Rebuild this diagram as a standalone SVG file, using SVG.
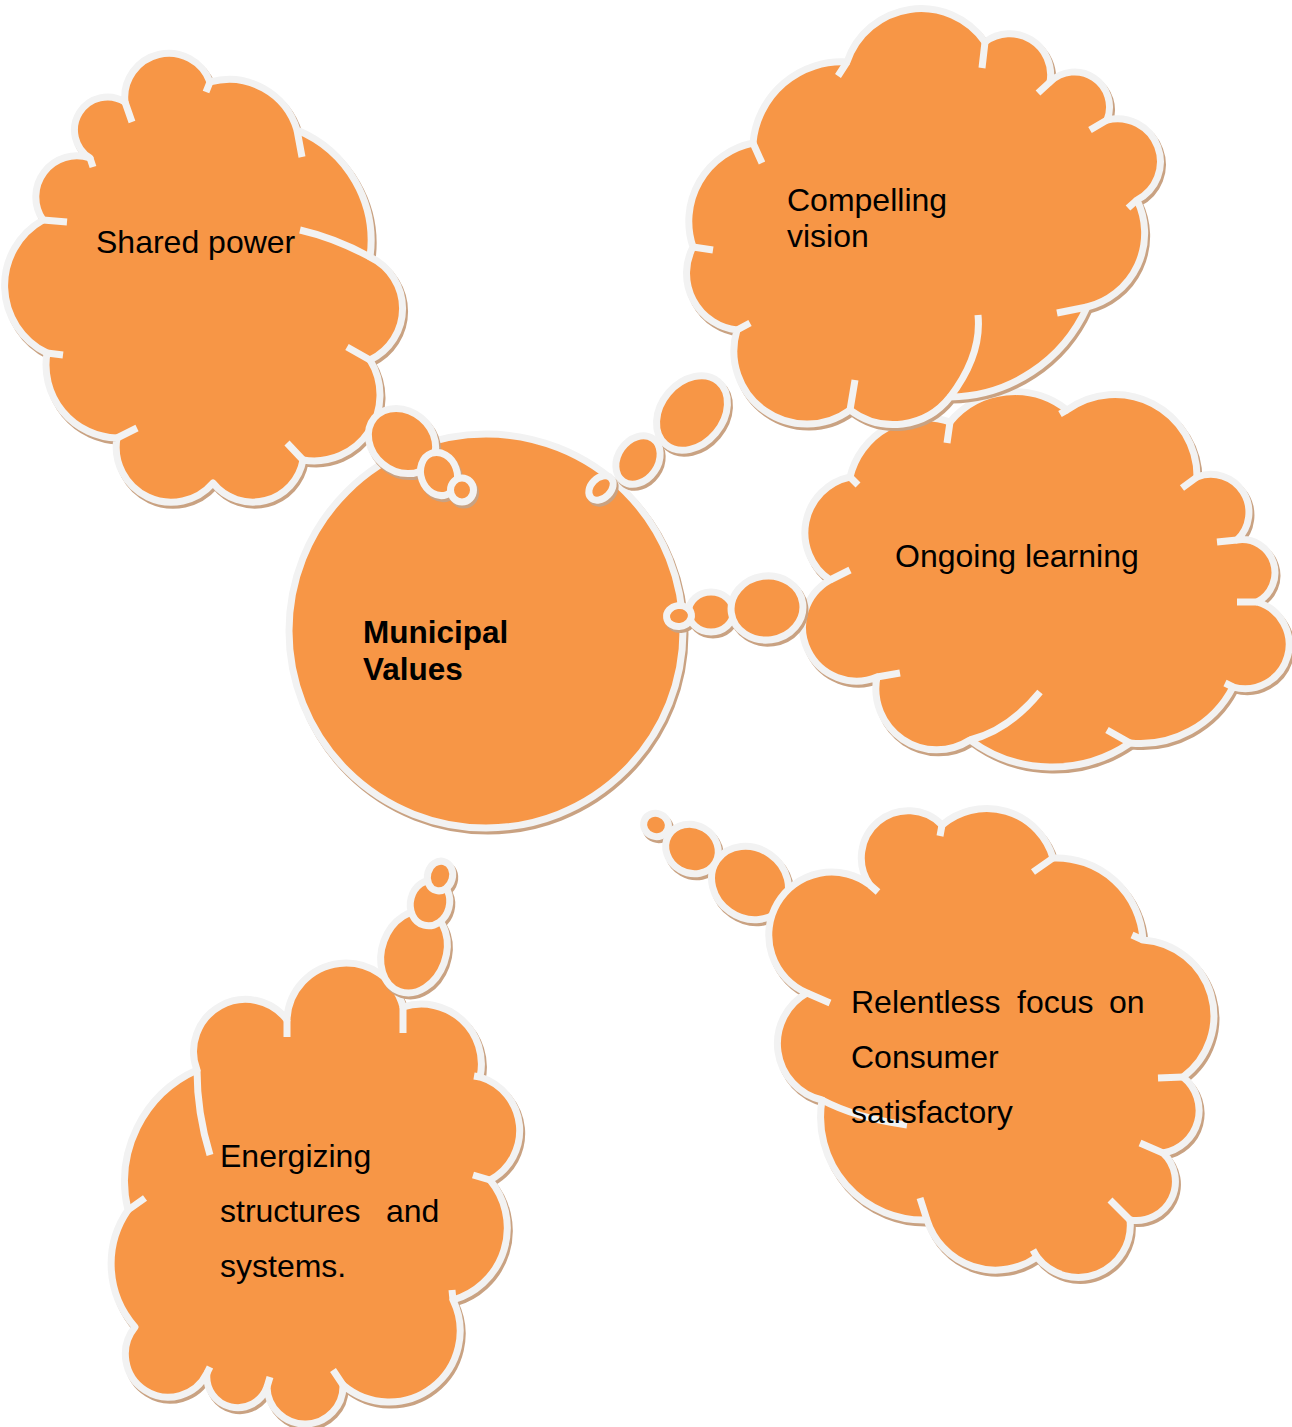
<svg xmlns="http://www.w3.org/2000/svg" xmlns:xlink="http://www.w3.org/1999/xlink" width="1292" height="1427" viewBox="0 0 1292 1427">
<style>
.sh{fill:#C9A282;stroke:#C9A282;stroke-width:7;stroke-linejoin:round}
.bd{fill:#F79646;stroke:#F2F2F2;stroke-width:7;stroke-linejoin:round}
.hk{fill:none;stroke:#F2F2F2;stroke-width:7;stroke-linecap:butt}
.t{font-family:"Liberation Sans",Arial,sans-serif;font-size:32px;fill:#000}
.tb{font-weight:bold;font-size:31.5px}
</style>
<defs>
<path id="c1" d="M125,102 A44,44 0 0 1 210,82 A71,71 0 0 1 297,130 A120,120 0 0 1 370,257 A57,57 0 0 1 370,360 A66,66 0 0 1 303,460 A51,51 0 0 1 213,483 A55,55 0 0 1 117,438 A73,73 0 0 1 47,353 A75,75 0 0 1 43,220 A41,41 0 0 1 90,158 A33,33 0 0 1 125,102 Z"/>
<path id="c2" d="M847,62 A78,78 0 0 1 985,42 A41,41 0 0 1 1050,82 A35,35 0 0 1 1107,120 A43,43 0 0 1 1137,200 A76,76 0 0 1 1087,307 A152,152 0 0 1 950,397 A72,72 0 0 1 850,410 A73,73 0 0 1 737,330 A57,57 0 0 1 693,247 A80,80 0 0 1 753,143 A89,89 0 0 1 847,62 Z"/>
<path id="c3" d="M850,477 A77,77 0 0 1 950,422 A84,84 0 0 1 1067,410 A82,82 0 0 1 1197,477 A38,38 0 0 1 1237,540 A33,33 0 0 1 1257,602 A44,44 0 0 1 1233,687 A104,104 0 0 1 1130,743 A138,138 0 0 1 970,740 A61,61 0 0 1 877,677 A54,54 0 0 1 830,580 A57,57 0 0 1 850,477 Z"/>
<path id="c4" d="M942,825 A69,69 0 0 1 1053,858 A87,87 0 0 1 1143,940 A76,76 0 0 1 1183,1077 A43,43 0 0 1 1163,1153 A39,39 0 0 1 1130,1220 A52,52 0 0 1 1037,1257 A72,72 0 0 1 927,1220 A103,103 0 0 1 822,1100 A58,58 0 0 1 807,993 A63,63 0 1 1 870,885 A47,47 0 0 1 942,825 Z"/>
<path id="c5" d="M197,1070 A52,52 0 0 1 287,1020 A59,59 0 0 1 403,1007 A60,60 0 0 1 480,1077 A56,56 0 0 1 490,1180 A75,75 0 0 1 453,1300 A71,71 0 0 1 343,1385 A38,38 0 0 1 267,1387 A31,31 0 0 1 207,1373 A43,43 0 1 1 135,1327 A95,95 0 0 1 128,1210 A122,122 0 0 1 197,1070 Z"/>
<g id="b1">
<ellipse cx="402" cy="441" rx="36" ry="30" transform="rotate(40 402 441)"/>
<ellipse cx="439" cy="474" rx="18" ry="22" transform="rotate(-20 439 474)"/>
<ellipse cx="462" cy="490" rx="11.5" ry="12"/>
</g>
<g id="b2">
<ellipse cx="692" cy="413" rx="41" ry="31" transform="rotate(-50 692 413)"/>
<ellipse cx="638" cy="460" rx="26" ry="20" transform="rotate(-55 638 460)"/>
<ellipse cx="601" cy="488" rx="14" ry="10" transform="rotate(-45 601 488)"/>
</g>
<g id="b3">
<ellipse cx="711" cy="612" rx="22.5" ry="20"/>
<ellipse cx="767" cy="608" rx="36" ry="32" transform="rotate(-8 767 608)"/>
<ellipse cx="679" cy="616" rx="12.5" ry="10.5" transform="rotate(-8 679 616)"/>
</g>
<g id="b4">
<ellipse cx="750" cy="883" rx="40" ry="35" transform="rotate(35 750 883)"/>
<ellipse cx="692" cy="849" rx="27" ry="24" transform="rotate(30 692 849)"/>
<ellipse cx="656" cy="825" rx="12.5" ry="11.5" transform="rotate(20 656 825)"/>
</g>
<g id="b5">
<ellipse cx="414" cy="952" rx="32" ry="42" transform="rotate(20 414 952)"/>
<ellipse cx="430" cy="903" rx="19.5" ry="23" transform="rotate(15 430 903)"/>
<ellipse cx="440" cy="876" rx="12.5" ry="15" transform="rotate(15 440 876)"/>
</g>
</defs>
<rect width="1292" height="1427" fill="#FFFFFF"/>

<g id="municipal-values">
<circle class="sh" cx="488" cy="634" r="197"/>
<circle class="bd" cx="486" cy="631" r="197"/>
<text class="t tb" x="363" y="643">Municipal</text>
<text class="t tb" x="363" y="680">Values</text>
</g>

<g id="shared-power">
<use xlink:href="#c1" class="sh" transform="translate(2,3)"/>
<use xlink:href="#c1" class="bd"/>
<path class="hk" d="M125,102 L132,122 M210,82 L206,92 M297,130 L302,157 M370,257 Q335,238 300,230 M370,360 L347,347 M303,460 L287,443 M117,438 L137,428 M47,353 L63,355 M43,220 L67,222 M90,158 L93,167"/>
<text class="t" x="96" y="253">Shared power</text>
</g>

<g id="ongoing-learning">
<use xlink:href="#c3" class="sh" transform="translate(2,3)"/>
<use xlink:href="#c3" class="bd"/>
<path class="hk" d="M850,477 L858,485 M950,422 L947,443 M1067,410 L1060,414 M1197,477 L1182,488 M1237,540 L1217,542 M1257,602 L1237,602 M1233,687 L1225,683 M1130,743 L1107,730 M970,740 Q1009,730 1040,692 M877,677 L900,673 M830,580 L850,570"/>
<text class="t" x="895" y="567">Ongoing learning</text>
</g>

<g id="compelling-vision">
<use xlink:href="#c2" class="sh" transform="translate(2,3)"/>
<use xlink:href="#c2" class="bd"/>
<path class="hk" d="M847,62 L838,76 M985,42 L982,68 M1050,82 L1038,93 M1107,120 L1090,130 M1137,200 L1128,208 M1087,307 L1057,313 M950,397 Q982,355 978,315 M850,410 L855,380 M737,330 L750,323 M693,247 L713,250 M753,143 L762,163"/>
<text class="t" x="787" y="211">Compelling</text>
<text class="t" x="787" y="247">vision</text>
</g>

<g id="energizing-structures">
<use xlink:href="#c5" class="sh" transform="translate(2,3)"/>
<use xlink:href="#c5" class="bd"/>
<path class="hk" d="M197,1070 Q197,1113 210,1155 M287,1020 L287,1037 M403,1007 L403,1033 M480,1077 L474,1076 M490,1180 L473,1175 M453,1300 L452,1290 M343,1385 L333,1370 M267,1387 L270,1377 M207,1373 L210,1367 M128,1210 L145,1198"/>
<text class="t" x="220" y="1167">Energizing</text>
<text class="t" x="220" y="1222">structures</text>
<text class="t" x="386" y="1222">and</text>
<text class="t" x="220" y="1277">systems.</text>
</g>

<g id="connectors">
<use xlink:href="#b1" class="sh" transform="translate(2,3)"/>
<use xlink:href="#b1" class="bd"/>
<use xlink:href="#b2" class="sh" transform="translate(2,3)"/>
<use xlink:href="#b2" class="bd"/>
<use xlink:href="#b3" class="sh" transform="translate(2,3)"/>
<use xlink:href="#b3" class="bd"/>
<use xlink:href="#b4" class="sh" transform="translate(2,3)"/>
<use xlink:href="#b4" class="bd"/>
<use xlink:href="#b5" class="sh" transform="translate(2,3)"/>
<use xlink:href="#b5" class="bd"/>
</g>

<g id="relentless-focus">
<use xlink:href="#c4" class="sh" transform="translate(2,3)"/>
<use xlink:href="#c4" class="bd"/>
<path class="hk" d="M942,825 L940,836 M1053,858 L1033,872 M1143,940 L1132,935 M1183,1077 L1158,1078 M1163,1153 L1140,1143 M1130,1220 L1110,1200 M1037,1257 L1033,1250 M927,1220 L920,1198 M822,1100 Q856,1118 907,1125 M807,993 L830,1003 M870,885 L878,892"/>
<text class="t" x="851" y="1013">Relentless</text>
<text class="t" x="1017" y="1013">focus</text>
<text class="t" x="1109" y="1013">on</text>
<text class="t" x="851" y="1068">Consumer</text>
<text class="t" x="851" y="1123">satisfactory</text>
</g>
</svg>
